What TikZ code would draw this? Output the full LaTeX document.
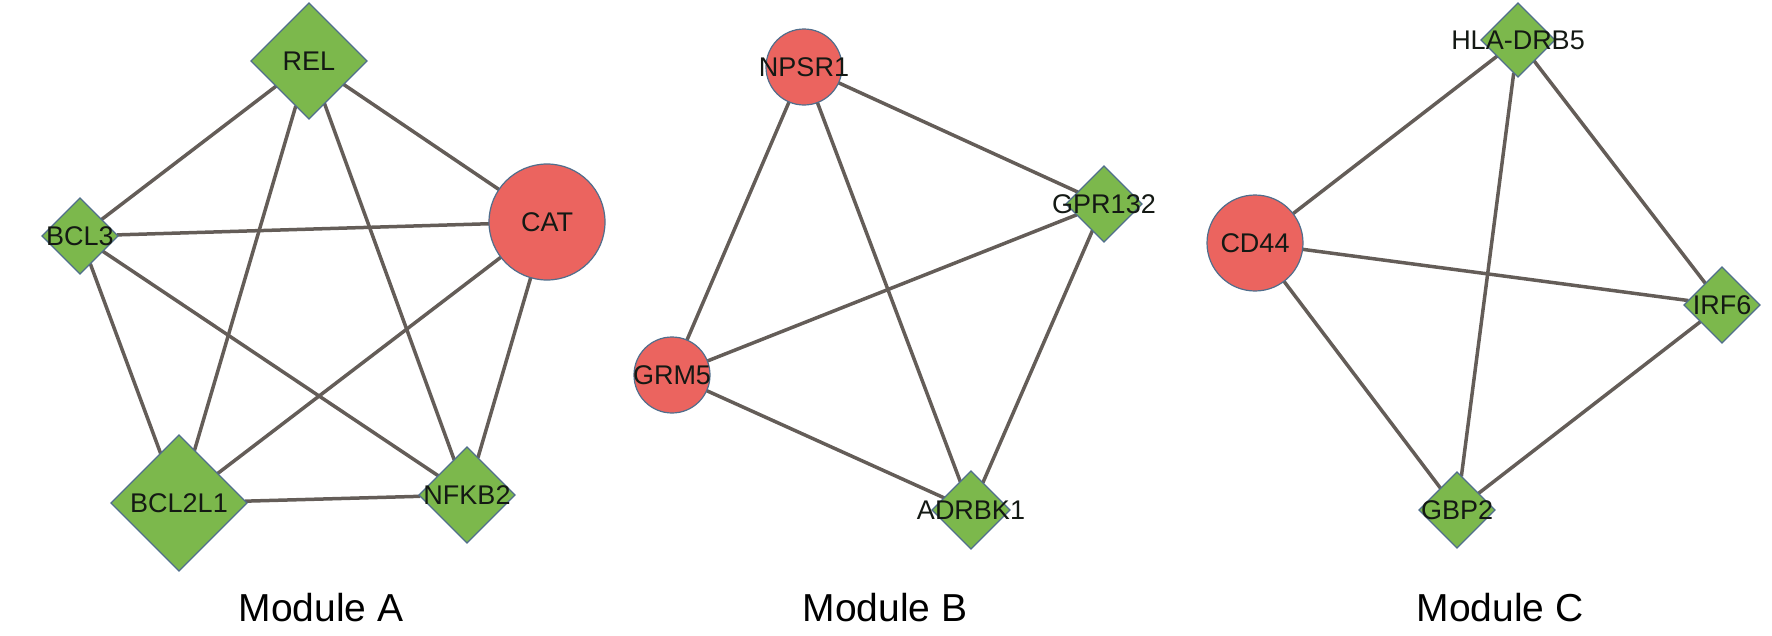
\documentclass[tikz,border=0pt]{standalone}
\usepackage{fontspec}
\setmainfont{Liberation Sans}
\usetikzlibrary{shapes.geometric,backgrounds}
\definecolor{gfill}{RGB}{124,184,76}
\definecolor{rfill}{RGB}{235,100,95}
\definecolor{nborder}{RGB}{80,110,140}
\definecolor{edgec}{RGB}{100,93,88}
\definecolor{txtc}{RGB}{20,25,20}
\begin{document}
\begin{tikzpicture}[x=1pt,y=-1pt,
  gene/.style={draw=nborder, line width=1.2pt, inner sep=0pt, outer sep=0pt},
  dia/.style={gene, diamond, fill=gfill, minimum width=#1, minimum height=#1},
  circ/.style={gene, circle, fill=rfill, minimum size=#1},
  lbl/.style={font=\fontsize{27}{27}\selectfont, text=txtc, inner sep=0pt},
  link/.style={draw=edgec, line width=3.5pt},
  modlbl/.style={font=\fontsize{39}{39}\selectfont, anchor=base, inner sep=0pt}
]
\useasboundingbox (0,0) rectangle (1772,635);
% Module A
\node[dia=116] (rel) at (309,61) {};
\node[dia=76] (bcl3) at (80,236) {};
\node[circ=116] (cat) at (547,222) {};
\node[dia=136] (bcl2l1) at (179,503) {};
\node[dia=96] (nfkb2) at (467,495) {};
% Module B
\node[circ=76] (npsr1) at (804,67) {};
\node[dia=76] (gpr132) at (1104,204) {};
\node[circ=76] (grm5) at (672,375) {};
\node[dia=78] (adrbk1) at (971,510) {};
% Module C
\node[dia=74] (hla) at (1518,40) {};
\node[circ=96] (cd44) at (1255,243) {};
\node[dia=76] (irf6) at (1722,305) {};
\node[dia=76] (gbp2) at (1457,510) {};

% labels
\node[lbl] (rel-t) at (rel) {REL};
\node[lbl] (bcl3-t) at (bcl3) {BCL3};
\node[lbl] (cat-t) at (cat) {CAT};
\node[lbl] (bcl2l1-t) at (bcl2l1) {BCL2L1};
\node[lbl] (nfkb2-t) at (nfkb2) {NFKB2};
\node[lbl] (npsr1-t) at (npsr1) {NPSR1};
\node[lbl] (gpr132-t) at (gpr132) {GPR132};
\node[lbl] (grm5-t) at (grm5) {GRM5};
\node[lbl] (adrbk1-t) at (adrbk1) {ADRBK1};
\node[lbl] (hla-t) at (hla) {HLA-DRB5};
\node[lbl] (cd44-t) at (cd44) {CD44};
\node[lbl] (irf6-t) at (irf6) {IRF6};
\node[lbl] (gbp2-t) at (gbp2) {GBP2};

\begin{pgfonlayer}{background}
\draw[link] (rel) -- (bcl3);
\draw[link] (rel) -- (cat);
\draw[link] (rel) -- (bcl2l1);
\draw[link] (rel) -- (nfkb2);
\draw[link] (bcl3) -- (cat);
\draw[link] (bcl3) -- (bcl2l1);
\draw[link] (bcl3) -- (nfkb2);
\draw[link] (cat) -- (bcl2l1);
\draw[link] (cat) -- (nfkb2);
\draw[link] (bcl2l1) -- (nfkb2);
\draw[link] (npsr1) -- (grm5);
\draw[link] (npsr1) -- (gpr132);
\draw[link] (npsr1) -- (adrbk1);
\draw[link] (grm5) -- (gpr132);
\draw[link] (grm5) -- (adrbk1);
\draw[link] (gpr132) -- (adrbk1);
\draw[link] (cd44) -- (hla);
\draw[link] (cd44) -- (irf6);
\draw[link] (cd44) -- (gbp2);
\draw[link] (hla) -- (irf6);
\draw[link] (hla) -- (gbp2);
\draw[link] (irf6) -- (gbp2);
\end{pgfonlayer}

\node[modlbl] (modA) at (321,621) {Module A};
\node[modlbl] (modB) at (885,621) {Module B};
\node[modlbl] (modC) at (1500,621) {Module C};
\end{tikzpicture}
\end{document}
